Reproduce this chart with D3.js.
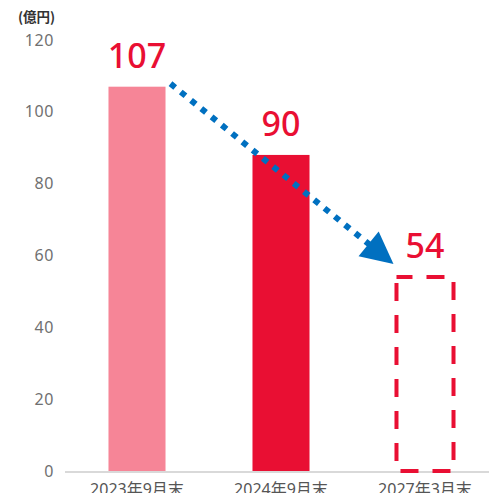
<!DOCTYPE html>
<html><head><meta charset="utf-8">
<script src="https://cdn.jsdelivr.net/npm/d3@7"></script>
<style>
html,body{margin:0;padding:0;background:#fff;overflow:hidden;}
svg{display:block;font-family:"Noto Sans","Noto Sans CJK JP",sans-serif;}
</style></head>
<body>
<svg id="chart" width="489" height="493"></svg>
<script>
const categories = ["2023年9月末", "2024年9月末", "2027年3月末"];
const values = [107, 88, 54];
const valueLabels = ["107", "90", "54"];
const barStyles = ["past", "current", "target"];
const yTicks = [0, 20, 40, 60, 80, 100, 120];
const unitLabel = "(億円)";

const svg = d3.select("#chart");
const x = d3.scaleBand().domain(categories).range([65, 497]).paddingInner(0.604).paddingOuter(0.302);
const y = d3.scaleLinear().domain([0, 120]).range([471, 40]);

// unit
svg.append("text").attr("x", 18).attr("y", 22).attr("text-anchor", "start")
  .attr("font-size", 13.5).attr("font-weight", 700).attr("fill", "#333")
  .style("font-family", "'Noto Sans CJK JP',sans-serif").text(unitLabel);

// y tick labels
svg.append("g").selectAll("text").data(yTicks).join("text")
  .attr("x", 54).attr("y", d => y(d)).attr("dy", "0.35em")
  .attr("text-anchor", "end").attr("font-size", 16).attr("letter-spacing", 0.6)
  .attr("fill", "#707070").text(d => d);

// bars
const colors = {past: "#f68597", current: "#e90f33"};
const data = categories.map((c, i) => ({c, v: values[i], label: valueLabels[i], s: barStyles[i]}));
svg.append("g").selectAll("rect.solid").data(data.filter(d => d.s !== "target")).join("rect")
  .attr("x", d => x(d.c)).attr("width", x.bandwidth())
  .attr("y", d => y(d.v)).attr("height", d => y(0) - y(d.v))
  .attr("fill", d => colors[d.s]);

// baseline
svg.append("line").attr("x1", 65).attr("x2", 489).attr("y1", y(0) + 1).attr("y2", y(0) + 1)
  .attr("stroke", "#d9d9d9").attr("stroke-width", 2);

// dashed target
data.filter(d => d.s === "target").forEach(d => {
  const x0 = x(d.c), x1 = x(d.c) + x.bandwidth(), y0 = y(d.v), y1 = y(0);
  svg.append("path")
    .attr("d", `M${x0},${y0} L${x1},${y0} L${x1},${y1} L${x0},${y1} Z`)
    .attr("fill", "none").attr("stroke", "#e90f33").attr("stroke-width", 4)
    .attr("stroke-dasharray", "18,14").attr("stroke-dashoffset", 2);
});

// value labels
svg.append("g").selectAll("text").data(data).join("text")
  .attr("x", d => x(d.c) + x.bandwidth() / 2).attr("y", d => y(d.v) - 19)
  .attr("text-anchor", "middle").attr("font-size", 34).attr("font-weight", 500)
  .attr("fill", "#e90f33").text(d => d.label);

// x labels
svg.append("g").selectAll("text").data(categories).join("text")
  .attr("x", d => x(d) + x.bandwidth() / 2).attr("y", 495)
  .attr("text-anchor", "middle").attr("font-size", 16)
  .attr("fill", "#555").text(d => d);

// arrow
const sx = x(categories[0]) + x.bandwidth() + 5, sy = y(values[0]) - 3;
const tx = x(categories[2]) - 3, ty = y(values[2]) - 13;
const ang = Math.atan2(ty - sy, tx - sx);
const headLen = 32, headW = 32;
const bx = tx - headLen * Math.cos(ang), by = ty - headLen * Math.sin(ang);
svg.append("line").attr("x1", sx).attr("y1", sy).attr("x2", bx + 4 * Math.cos(ang)).attr("y2", by + 4 * Math.sin(ang))
  .attr("stroke", "#0070c0").attr("stroke-width", 6).attr("stroke-dasharray", "6,7.2");
const px = -Math.sin(ang), py = Math.cos(ang);
svg.append("path")
  .attr("d", `M${tx},${ty} L${bx + px * headW / 2},${by + py * headW / 2} L${bx - px * headW / 2},${by - py * headW / 2} Z`)
  .attr("fill", "#0070c0");
</script>
</body></html>
